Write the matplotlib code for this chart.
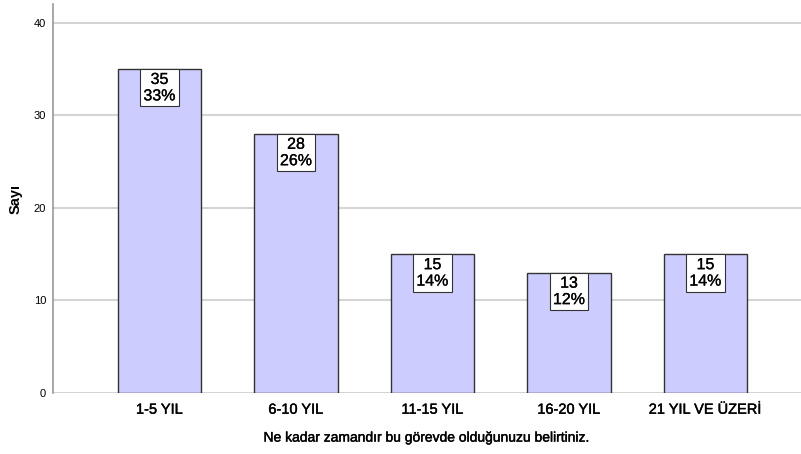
import matplotlib
matplotlib.use('Agg')
import matplotlib.pyplot as plt
import matplotlib.patheffects as pe

plt.rcParams['font.family'] = ['Liberation Sans', 'DejaVu Sans']

categories = ['1-5 YIL', '6-10 YIL', '11-15 YIL', '16-20 YIL', '21 YIL VE ÜZERİ']
counts = [35, 28, 15, 13, 15]
percents = ['33%', '26%', '14%', '12%', '14%']

# SPSS çıktısındaki biraz kalın yazı görünümü için
heavy = [pe.withStroke(linewidth=0.3, foreground='black')]

fig = plt.figure(figsize=(8.01, 4.54), dpi=100)
ax = fig.add_axes([0.0662, 0.1344, 0.9338, 0.8566])

x = list(range(len(categories)))
ax.bar(x, counts, width=0.61, color='#ccccff', edgecolor='#333333', linewidth=1.0, zorder=3)

# etiket kutuları (sayı + yüzde)
for xi, c, p in zip(x, counts, percents):
    t = ax.annotate(f'{c}\n{p}', xy=(xi, c), xytext=(0, -2.2), textcoords='offset points',
                    ha='center', va='top', fontsize=11.5, linespacing=1.12, zorder=5,
                    bbox=dict(boxstyle='square,pad=0.19', fc='white', ec='#333333', lw=0.8))
    t.set_path_effects([pe.withStroke(linewidth=0.2, foreground='black')])

ax.set_xlim(-0.78, 4.70)
ax.set_ylim(0, 42)
ax.set_yticks([0, 10, 20, 30, 40])
ax.set_xticks(x)
ax.set_xticklabels(categories, fontsize=10.5)
ax.tick_params(axis='y', labelsize=8, length=0, pad=5)
ax.tick_params(axis='x', length=0, pad=7)
for lbl in ax.get_xticklabels():
    lbl.set_path_effects(heavy)
ax.yaxis.grid(True, color='#d4d4d4', linewidth=1.5, zorder=0)
ax.set_axisbelow(True)

for s in ['top', 'right', 'bottom']:
    ax.spines[s].set_visible(False)
ax.spines['left'].set_color('#999999')
ax.spines['left'].set_linewidth(1.2)

xl = ax.set_xlabel('Ne kadar zamandır bu görevde olduğunuzu belirtiniz.', fontsize=10, labelpad=10)
xl.set_path_effects(heavy)
yl = ax.set_ylabel('Sayı', fontsize=10.5, fontweight='bold', labelpad=8)

fig.savefig('out.png', dpi=100)
